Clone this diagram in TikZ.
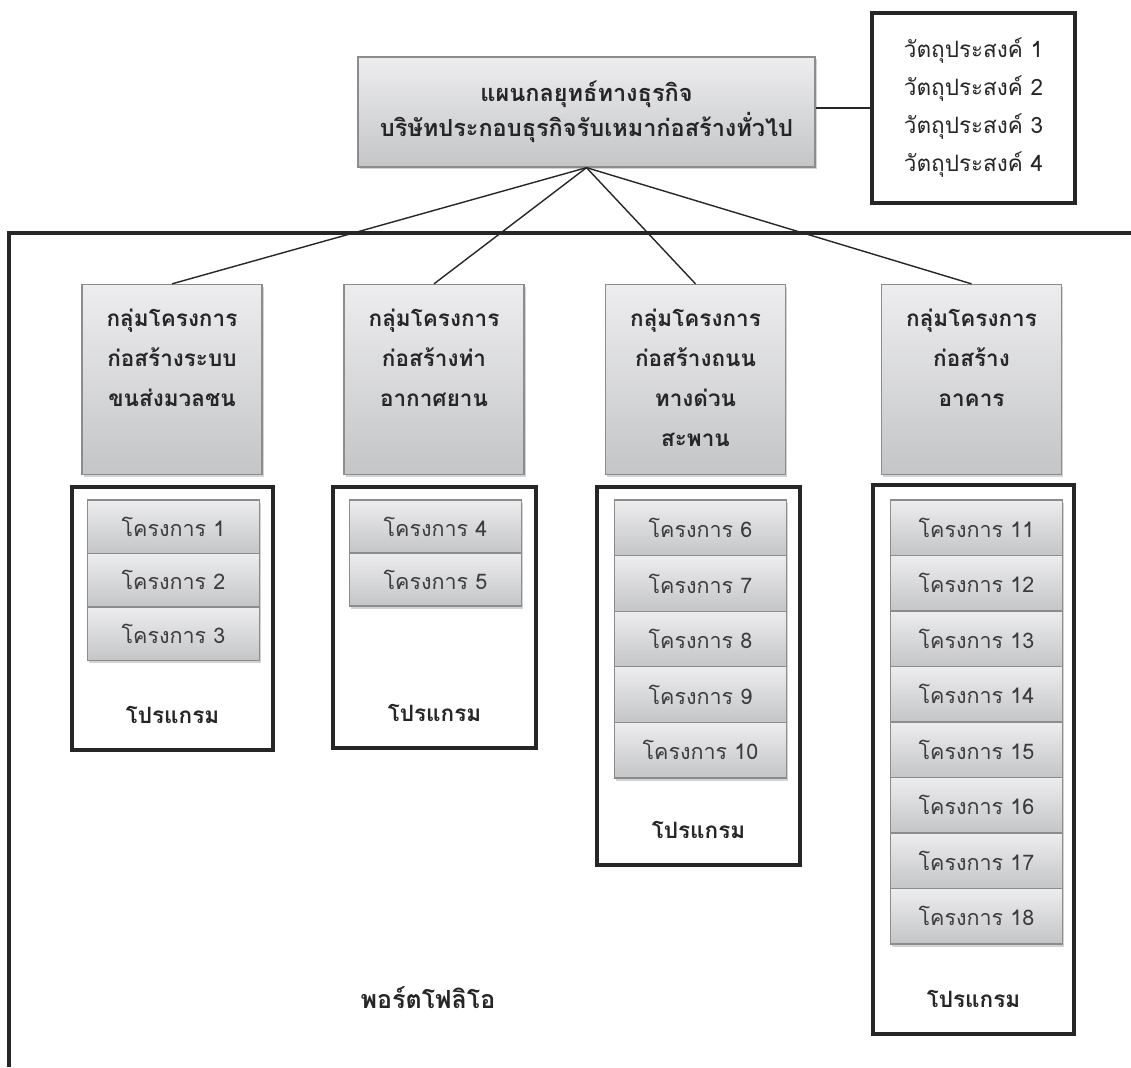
\documentclass[tikz,border=0pt]{standalone}
\usepackage{fontspec}
\newfontfamily\thai[Script=Thai]{Loma}
\usetikzlibrary{shadows}

\definecolor{boxline}{HTML}{8C8C8C}
\definecolor{boxtop}{HTML}{EDEDEF}
\definecolor{boxbot}{HTML}{C4C5C7}
\definecolor{ink}{HTML}{262626}

\begin{document}
\begin{tikzpicture}[x=1pt,y=-1pt,font=\thai,text=ink,
  shaded box/.style={draw=boxline,line width=1.3pt,top color=boxtop,bottom color=boxbot,
    drop shadow={shadow xshift=1.5pt,shadow yshift=-2.5pt,opacity=.35},inner sep=0pt},
  group box/.style={shaded box,minimum width=180pt,minimum height=190pt},
  proj box/.style={shaded box,minimum width=172pt,minimum height=#1,
    font=\thai\fontsize{21.5}{24}\selectfont,text=ink!90},
  prog box/.style={draw=ink,line width=4pt,inner sep=0pt},
  grouptitle/.style={align=center,inner sep=0pt,font=\thai\bfseries\fontsize{22.5}{40}\selectfont},
  spoke/.style={draw=ink,line width=1.4pt}]
  \useasboundingbox (0,0) rectangle (1131,1067);

  \node[shaded box,minimum width=457pt,minimum height=110pt,align=center,
    font=\thai\bfseries\fontsize{23.5}{35}\selectfont] (plan) at (586.5,112)
    {แผนกลยุทธ์ทางธุรกิจ\\บริษัทประกอบธุรกิจรับเหมาก่อสร้างทั่วไป};
  \node[prog box,minimum width=203pt,minimum height=190pt,align=center,
    font=\thai\fontsize{22.5}{38}\selectfont] (goal) at (973.5,108)
    {วัตถุประสงค์ 1\\วัตถุประสงค์ 2\\วัตถุประสงค์ 3\\วัตถุประสงค์ 4};
  \draw[ink,line width=2.5pt] (goal.west -| plan.east) -- (goal.west);

  \coordinate (fr) at (1131,233);
  \coordinate (fc) at (9,233);
  \coordinate (fb) at (9,1067);

  \foreach \i/\x/\t in {1/172/{กลุ่มโครงการ\\ก่อสร้างระบบ\\ขนส่งมวลชน},
      2/434/{กลุ่มโครงการ\\ก่อสร้างท่า\\อากาศยาน},
      3/695.5/{กลุ่มโครงการ\\ก่อสร้างถนน\\ทางด่วน\\สะพาน},
      4/971.5/{กลุ่มโครงการ\\ก่อสร้าง\\อาคาร}} {
    \node[group box] (g\i) at (\x,379.5) {};
    \node[grouptitle,anchor=north] (g\i t) at ([yshift=-25pt]g\i.north) {\t};
    \draw[spoke] (plan.south) -- (g\i.north);
  }
  \draw[ink,line width=4pt] (fr) -- (fc) -- (fb);

  \node[prog box,minimum width=201pt,minimum height=263pt] (p1) at (172.5,618.5) {};
  \node[prog box,minimum width=203pt,minimum height=261pt] (p2) at (434.5,617.5) {};
  \node[prog box,minimum width=203pt,minimum height=378pt] (p3) at (698.5,676) {};
  \node[prog box,minimum width=201pt,minimum height=549pt] (p4) at (973.5,759.5) {};

  \foreach \i/\x/\from/\to/\h in {1/173.5/1/3/53.5,2/435.5/4/5/53,
      3/700.5/6/10/55.6,4/976.5/11/18/55.5} {
    \foreach \k in {\from,...,\to}
      \node[proj box=\h] (j\k) at (\x,{500+\h*(\k-\from+.5)}) {โครงการ \k};
    \node[grouptitle] (p\i l) at ([yshift=37pt]p\i.south) {โปรแกรม};
  }

  \node[grouptitle,font=\thai\bfseries\fontsize{25}{30}\selectfont] (port) at (428,998) {พอร์ตโฟลิโอ};
\end{tikzpicture}
\end{document}
